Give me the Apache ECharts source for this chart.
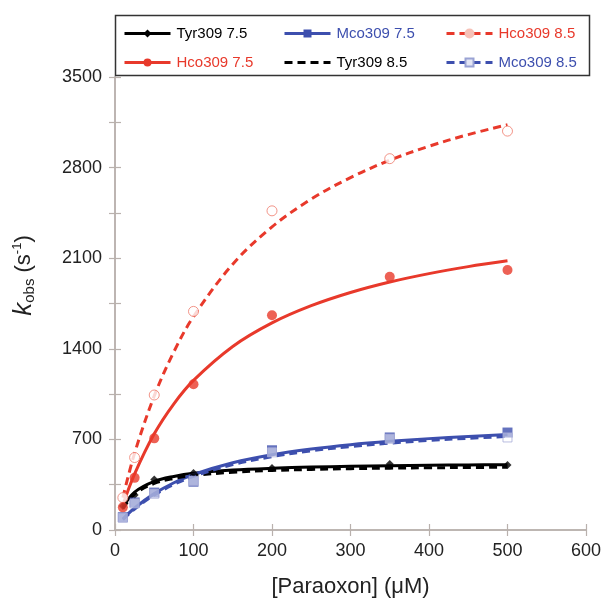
<!DOCTYPE html>
<html>
<head>
<meta charset="utf-8">
<script src="https://cdn.jsdelivr.net/npm/echarts@6/dist/echarts.min.js"></script>
<style>
html,body{margin:0;padding:0;background:#fff;}
#c{width:604px;height:603px;}
</style>
</head>
<body>
<div id="c"></div>
<script>
// ---- data ----
const xPts = [10, 25, 50, 100, 200, 350, 500];
const xFit = [10, 25, 50, 75, 100, 150, 200, 250, 300, 350, 400, 450, 500];

const tyr75Pts = [185, 270, 390, 441, 479, 510, 502];
const hco75Pts = [175, 403, 708, 1126, 1659, 1956, 2009];
const mco75Pts = [99, 213, 289, 373, 616, 715, 753];
const hco85Pts = [250, 560, 1043, 1689, 2466, 2869, 3082];
const mco85Pts = [95, 205, 280, 380, 600, 705, 715];

const tyr75Fit = [175, 292, 375, 414, 438, 463, 477, 486, 492, 497, 500, 503, 505];
const hco75Fit = [193, 433, 743, 975, 1156, 1418, 1600, 1733, 1835, 1916, 1981, 2035, 2080];
const mco75Fit = [85, 170, 281, 365, 429, 519, 581, 625, 659, 685, 706, 723, 738];
const hco85Fit = [250, 594, 1036, 1377, 1649, 2054, 2342, 2557, 2723, 2857, 2965, 3055, 3131];
const tyr85Fit = [165, 278, 360, 398, 421, 446, 460, 468, 474, 478, 481, 483, 485];
const mco85Fit = [80, 162, 270, 352, 415, 505, 567, 612, 645, 671, 692, 709, 723];

const xTicks = [0, 100, 200, 300, 400, 500, 600];
const yTicks = [0, 700, 1400, 2100, 2800, 3500];

const names = ['Tyr309 7.5', 'Mco309 7.5', 'Hco309 8.5', 'Hco309 7.5', 'Tyr309 8.5', 'Mco309 8.5'];

// ---- styling ----
const RED = '#e8392b', BLUE = '#3d4fae', BLACK = '#000000';
const AXIS = '#b9b1ad';
const FONT = 'Liberation Sans, Arial, sans-serif';

function pairs(xs, ys) { return xs.map((x, i) => [x, ys[i]]); }

function fitSeries(name, ys, color, dashed, symbol, symbolSize, symbolStyle) {
  return {
    name: name, type: 'line', data: pairs(xFit, ys), smooth: 0.35,
    showSymbol: false, symbol: symbol, symbolSize: symbolSize,
    itemStyle: symbolStyle || { color: color },
    lineStyle: { color: color, width: 3, type: dashed ? [8, 5] : 'solid' },
    z: 3, silent: true
  };
}
function ptSeries(name, ys, symbol, size, style) {
  return {
    name: name, type: 'scatter', data: pairs(xPts, ys), symbol: symbol,
    symbolSize: size, itemStyle: style, z: 4, silent: true
  };
}

const series = [
  fitSeries(names[0], tyr75Fit, BLACK, false, 'diamond', 8, { color: BLACK }),
  fitSeries(names[1], mco75Fit, BLUE, false, 'rect', 9, { color: BLUE }),
  fitSeries(names[2], hco85Fit, RED, true, 'circle', 9, { color: '#f6c2b8', borderColor: '#f6c2b8', borderWidth: 1 }),
  fitSeries(names[3], hco75Fit, RED, false, 'circle', 9, { color: RED }),
  fitSeries(names[4], tyr85Fit, BLACK, true, 'none', 0, { color: BLACK }),
  fitSeries(names[5], mco85Fit, BLUE, true, 'rect', 8, { color: '#e4e6f4', borderColor: '#9aa3d4', borderWidth: 1 }),
  ptSeries(names[0], tyr75Pts, 'diamond', 8, { color: BLACK }),
  ptSeries(names[1], mco75Pts, 'rect', 10, { color: BLUE }),
  ptSeries(names[2], hco85Pts, 'circle', 10, { color: '#ffffff', borderColor: '#ef7a6c', borderWidth: 1 }),
  ptSeries(names[3], hco75Pts, 'circle', 10, { color: RED }),
  ptSeries(names[5], mco85Pts, 'rect', 9, { color: 'rgba(255,255,255,0.6)', borderColor: '#a7add8', borderWidth: 1 })
];

const legendCols = [123, 283, 445];
const legendRows = [26, 55];
const nameColors = [BLACK, BLUE, RED, RED, BLACK, BLUE];
const legends = names.map((n, i) => {
  const item = { name: n, textStyle: { color: nameColors[i] }, lineStyle: { width: 3 } };
  if (i === 4) item.itemStyle = { opacity: 0 };
  return {
    data: [item],
    left: legendCols[i % 3], top: legendRows[Math.floor(i / 3)],
    padding: 0, itemWidth: 46, itemHeight: 10, itemGap: 0,
    textStyle: { fontSize: 15, fontFamily: FONT, padding: [0, 0, 0, 1] },
    selectedMode: false
  };
});

const chart = echarts.init(document.getElementById('c'), null, { renderer: 'canvas' });
chart.setOption({
  backgroundColor: '#ffffff',
  animation: false,
  legend: legends,
  grid: { left: 115, right: 17, top: 77, bottom: 66, containLabel: false },
  graphic: [{
    type: 'rect', left: 113, top: 13, shape: { width: 474, height: 60 },
    style: { fill: 'none', stroke: '#333333', lineWidth: 1.5 }, z: 10, silent: true
  }],
  xAxis: [{
    type: 'value', min: xTicks[0], max: xTicks[xTicks.length - 1], interval: 100,
    name: '[Paraoxon] (\u03bcM)', nameLocation: 'middle', nameGap: 46,
    nameTextStyle: { fontSize: 22, fontFamily: FONT, color: '#222' },
    axisLine: { show: true, lineStyle: { color: AXIS, width: 1.5 } },
    axisTick: { show: true, inside: true, length: 6, lineStyle: { color: AXIS, width: 1.2 } },
    axisLabel: { fontSize: 18, fontFamily: FONT, color: '#222', margin: 12 },
    splitLine: { show: false }
  }, {
    type: 'value', position: 'top', min: 0, max: 600, interval: 100,
    axisLine: { show: true, lineStyle: { color: AXIS, width: 1.5 } },
    axisTick: { show: true, inside: true, length: 6, lineStyle: { color: AXIS, width: 1.2 } },
    axisLabel: { show: false }, splitLine: { show: false }
  }],
  yAxis: [{
    type: 'value', min: yTicks[0], max: yTicks[yTicks.length - 1], interval: 350,
    name: '{k|k}{sub|obs}{n| (s}{sup|-1}{n|)}', nameLocation: 'middle', nameGap: 78, nameRotate: 90,
    nameTextStyle: {
      fontFamily: FONT, color: '#222', fontSize: 22, padding: [0, 0, 0, 56],
      rich: {
        k: { fontSize: 26, fontStyle: 'italic', fontFamily: FONT, color: '#222' },
        sub: { fontSize: 15, fontFamily: FONT, color: '#222', padding: [12, 0, 0, 0] },
        n: { fontSize: 22, fontFamily: FONT, color: '#222' },
        sup: { fontSize: 13, fontFamily: FONT, color: '#222', padding: [0, 0, 12, 0] }
      }
    },
    axisLine: { show: true, lineStyle: { color: AXIS, width: 1.5 } },
    axisTick: { show: true, inside: true, length: 6, lineStyle: { color: AXIS, width: 1.2 } },
    axisLabel: {
      fontSize: 18, fontFamily: FONT, color: '#222', margin: 13,
      formatter: v => (yTicks.indexOf(v) >= 0 ? String(v) : '')
    },
    splitLine: { show: false }
  }, {
    type: 'value', position: 'right', min: 0, max: 3500, interval: 350,
    axisLine: { show: true, lineStyle: { color: AXIS, width: 1.5 } },
    axisTick: { show: true, inside: true, length: 6, lineStyle: { color: AXIS, width: 1.2 } },
    axisLabel: { show: false }, splitLine: { show: false }
  }],
  series: series
});
</script>
</body>
</html>
